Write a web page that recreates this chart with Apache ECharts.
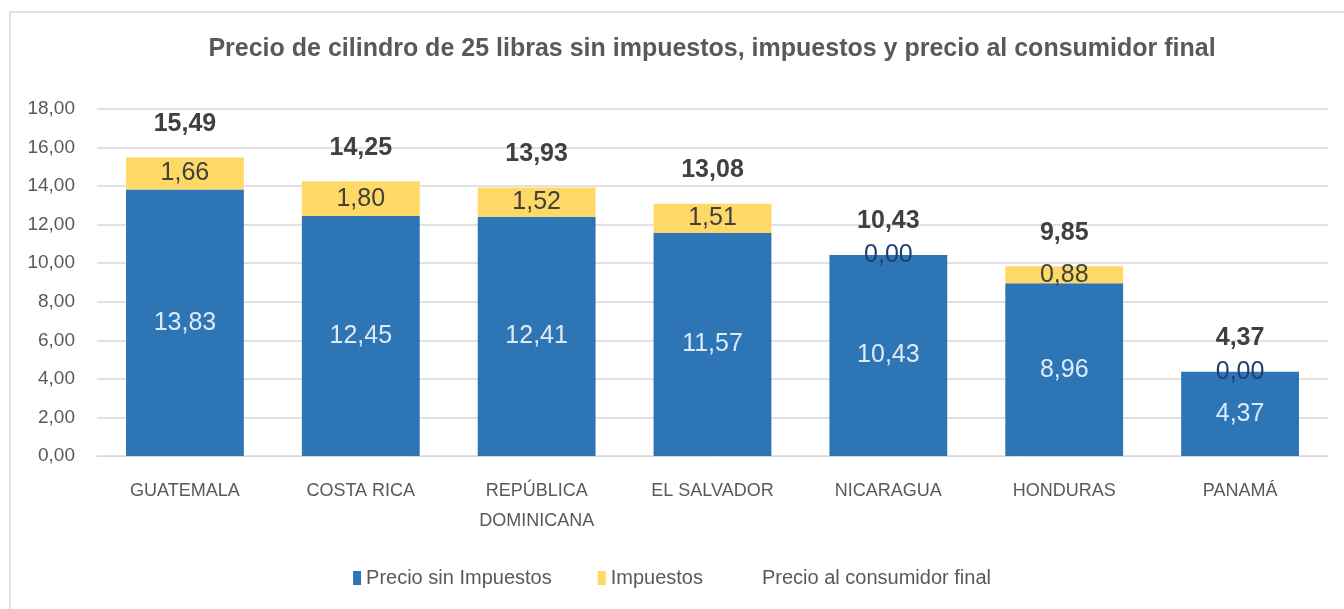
<!DOCTYPE html>
<html>
<head>
    <meta charset="UTF-8"/>
    <script type="text/javascript" src="https://cdn.jsdelivr.net/npm/echarts@6/dist/echarts.min.js"></script>
    <title>Precio de cilindro de 25 libras</title>
    <style>
        body { margin: 0; background: #fff; }
        #barChart { width: 1344px; height: 609px; }
    </style>
</head>
<body>
<div id="barChart"></div>

<script type="application/javascript">
    var paises = ['GUATEMALA', 'COSTA RICA', 'REPÚBLICA\nDOMINICANA', 'EL SALVADOR', 'NICARAGUA', 'HONDURAS', 'PANAMÁ'];
    var precioSinImpuestos = [13.83, 12.45, 12.41, 11.57, 10.43, 8.96, 4.37];
    var impuestos = [1.66, 1.80, 1.52, 1.51, 0.00, 0.88, 0.00];
    var precioFinal = [15.49, 14.25, 13.93, 13.08, 10.43, 9.85, 4.37];

    var fuente = '"Liberation Sans", sans-serif';

    function coma(v) {
        return Number(v).toFixed(2).replace('.', ',');
    }

    // los 0,00 quedan encima de la barra azul, se ven azul oscuro
    var impuestosData = impuestos.map(function (v) {
        if (v === 0) {
            return { value: v, label: { color: '#1f3f73' } };
        }
        return v;
    });

    var myChart = echarts.init(document.getElementById('barChart'));
    var option = {
        textStyle: { fontFamily: fuente },
        title: {
            text: 'Precio de cilindro de 25 libras sin impuestos, impuestos y precio al consumidor final',
            left: 707,
            textAlign: 'center',
            top: 32,
            textStyle: { color: '#595959', fontSize: 25, fontWeight: 'bold', fontFamily: fuente }
        },
        graphic: [{
            type: 'rect',
            shape: { x: 10, y: 12, width: 1345, height: 610 },
            style: { fill: 'none', stroke: '#d9d9d9', lineWidth: 1.5 },
            silent: true
        }],
        legend: {
            bottom: 16,
            left: 'center',
            itemWidth: 8,
            itemHeight: 14,
            itemGap: 46,
            textStyle: { color: '#595959', fontSize: 20, fontFamily: fuente },
            data: [
                { name: 'Precio sin Impuestos', icon: 'rect' },
                { name: 'Impuestos', icon: 'rect' },
                { name: 'Precio al consumidor final', icon: 'rect', itemStyle: { color: 'rgba(0,0,0,0)' } }
            ]
        },
        grid: { left: 97, right: 16, top: 109, bottom: 153 },
        xAxis: {
            type: 'category',
            data: paises,
            axisTick: { show: false },
            axisLine: { lineStyle: { color: '#d9d9d9' } },
            axisLabel: { color: '#595959', fontSize: 18, margin: 20, lineHeight: 30 }
        },
        yAxis: {
            type: 'value',
            min: 0,
            max: 18,
            interval: 2,
            axisLabel: {
                color: '#595959', fontSize: 19, margin: 22,
                formatter: function (v) { return coma(v); }
            },
            splitLine: { lineStyle: { color: '#d9d9d9', width: 1.5 } }
        },
        series: [
            {
                name: 'Precio sin Impuestos',
                type: 'bar',
                stack: 'total',
                barCategoryGap: '33%',
                data: precioSinImpuestos,
                itemStyle: { color: '#2e75b6' },
                label: {
                    show: true, position: 'inside', color: '#deebf7', fontSize: 25,
                    formatter: function (p) { return coma(p.value); }
                }
            },
            {
                name: 'Impuestos',
                type: 'bar',
                stack: 'total',
                data: impuestosData,
                itemStyle: { color: '#ffd966' },
                label: {
                    show: true, position: 'inside', color: '#404040', fontSize: 25,
                    formatter: function (p) { return coma(p.value); }
                }
            },
            {
                name: 'Precio al consumidor final',
                type: 'line',
                data: precioFinal,
                symbol: 'circle',
                symbolSize: 2,
                showSymbol: true,
                lineStyle: { opacity: 0 },
                itemStyle: { color: 'rgba(0,0,0,0)' },
                label: {
                    show: true, position: 'top', distance: 20, color: '#404040',
                    fontSize: 25, fontWeight: 'bold',
                    formatter: function (p) { return coma(p.value); }
                }
            }
        ]
    };
    myChart.setOption(option);
</script>
</body>
</html>
